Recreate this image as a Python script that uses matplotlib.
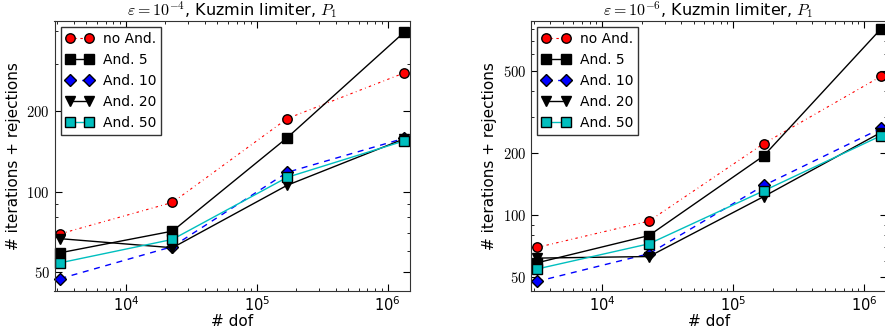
import numpy as np
import matplotlib
matplotlib.use("Agg")
import matplotlib.pyplot as plt
from matplotlib.ticker import FuncFormatter, NullFormatter

plt.rcParams["mathtext.fontset"] = "cm"
plt.rcParams["font.family"] = "DejaVu Sans"

dof = [3160, 22700, 171000, 1340000]

labels = ["no And.", "And. 5", "And. 10", "And. 20", "And. 50"]

# eps = 1e-4
iters_e4 = {
    "no And.": [69.4, 91.0, 188.0, 279.0],
    "And. 5": [58.9, 71.0, 159.4, 397.0],
    "And. 10": [47.1, 62.1, 118.1, 158.5],
    "And. 20": [66.5, 61.5, 105.6, 157.8],
    "And. 50": [54.0, 66.1, 113.1, 155.0],
}

# eps = 1e-6
iters_e6 = {
    "no And.": [69.7, 93.5, 222.0, 469.0],
    "And. 5": [58.7, 79.6, 193.7, 796.0],
    "And. 10": [47.7, 65.0, 139.1, 262.6],
    "And. 20": [61.9, 63.0, 123.0, 251.0],
    "And. 50": [54.8, 72.6, 131.1, 242.0],
}

styles = {
    "no And.": dict(color="r", dashes=(2.2, 3.0, 0.7, 3.0), marker="o", ms=6.8, lw=0.8),
    "And. 5": dict(color="k", dashes=(), marker="s", ms=7.6, lw=1.0),
    "And. 10": dict(color="b", dashes=(4.3, 4.1), marker="D", ms=6.3, lw=1.0),
    "And. 20": dict(color="k", dashes=(), marker="v", ms=7.0, lw=1.0),
    "And. 50": dict(color="c", dashes=(), marker="s", ms=7.0, lw=1.0),
}

fig = plt.figure(figsize=(8.85, 3.36), dpi=100)
W, H = 885.0, 336.0
ax1 = fig.add_axes([54.5 / W, 1 - 291 / H, 355.5 / W, 270 / H])
ax2 = fig.add_axes([531 / W, 1 - 291 / H, 355.5 / W, 270 / H])


def draw(ax, data, title, yticks, ylim):
    for name in labels:
        st = styles[name]
        line, = ax.plot(dof, data[name], color=st["color"], lw=st["lw"],
                        marker=st["marker"], mfc=st["color"], mec="k", mew=1,
                        ms=st["ms"], label=name, clip_on=False)
        if st["dashes"]:
            line.set_dashes(st["dashes"])
    ax.set_xscale("log")
    ax.set_yscale("log")
    ax.set_xlim(2850, 1.48e6)
    ax.set_ylim(*ylim)
    ax.set_yticks(yticks)
    ax.yaxis.set_major_formatter(FuncFormatter(lambda v, p: r"$%g$" % v))
    ax.yaxis.set_minor_formatter(NullFormatter())
    ax.tick_params(which="both", direction="in", top=True, right=True,
                   labelsize=10.5)
    ax.tick_params(which="major", length=5)
    ax.tick_params(which="minor", length=2.5)
    ax.tick_params(axis="x", pad=3)
    for s in ax.spines.values():
        s.set_color("#333333")
    ax.set_xlabel("# dof", fontsize=11, labelpad=0)
    ax.set_ylabel("# iterations + rejections", fontsize=11, labelpad=4)
    ax.set_title(title, fontsize=11.5, pad=3)
    leg = ax.legend(loc="upper left", numpoints=2, fontsize=10,
                    handlelength=2.0, labelspacing=0.5, borderpad=0.35,
                    borderaxespad=0.45, handletextpad=0.7,
                    fancybox=False, framealpha=1)
    leg.get_frame().set_edgecolor("#333333")
    leg.get_frame().set_linewidth(1)


draw(ax1, iters_e4, r"$\varepsilon=10^{-4}$, Kuzmin limiter, $P_1$",
     [50, 100, 200], (42.3, 437))
draw(ax2, iters_e6, r"$\varepsilon=10^{-6}$, Kuzmin limiter, $P_1$",
     [50, 100, 200, 500], (42.9, 870))

fig.savefig("out.png", dpi=100)
